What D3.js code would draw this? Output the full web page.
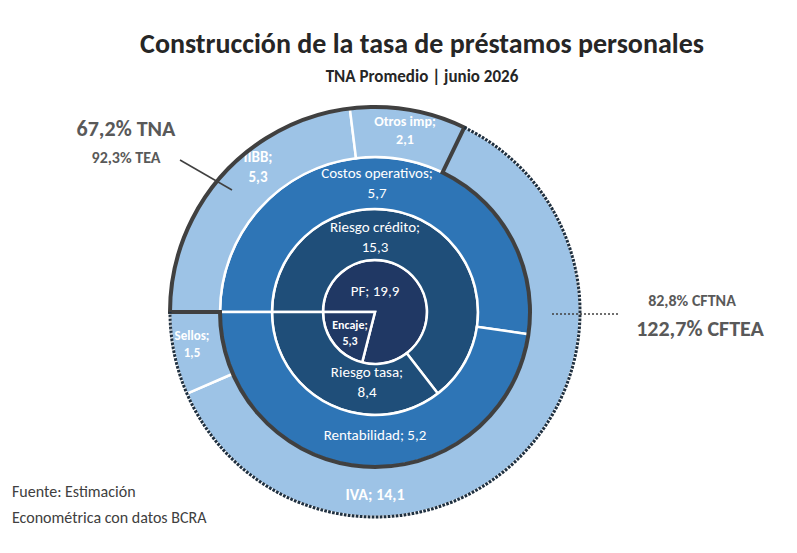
<!DOCTYPE html>
<html><head><meta charset="utf-8">
<script src="https://cdn.jsdelivr.net/npm/d3@7"></script>
<style>body{margin:0;background:#fff}text{font-family:Calibri,Carlito,"Open Sans",sans-serif}</style>
</head><body><svg id="c" width="797" height="553"></svg>
<script>
const ring1 = [{name:"PF", value:19.9},{name:"Encaje", value:5.3}];
const ring2 = [{name:"Riesgo crédito", value:15.3},{name:"Riesgo tasa", value:8.4}];
const ring3 = [{name:"Costos operativos", value:5.7},{name:"Rentabilidad", value:5.2}];
const ring4 = [{name:"IIBB", value:5.3},{name:"Otros imp", value:2.1},{name:"IVA", value:14.1},{name:"Sellos", value:1.5}];
const tnaLabels = ["67,2% TNA","92,3% TEA"];
const cftLabels = ["82,8% CFTNA","122,7% CFTEA"];
const fmt = v => String(v).replace(".", ",");

const svg = d3.select("#c");
const cx = 375, cy = 312;
const g = svg.append("g").attr("transform", `translate(${cx},${cy})`);
const pie = d3.pie().sort(null).value(d=>d.value).startAngle(-Math.PI/2).endAngle(3*Math.PI/2);
const rings = [
 {data:ring1, r0:0, r1:52, color:"#203864", fs:14},
 {data:ring2, r0:52, r1:103, color:"#1f4e79", fs:15},
 {data:ring3, r0:103, r1:155, color:"#2e75b6", fs:15},
 {data:ring4, r0:155, r1:205, color:"#9dc3e6", fs:15}
];
// label offsets relative to center [dx, dy, bold, size, twoLine]
const labelPos = {
 "PF":[0,-16,false,15,false], "Encaje":[-25,17,true,12,true],
 "Riesgo crédito":[0,-80,false,15,true], "Riesgo tasa":[-8,65,false,15,true],
 "Costos operativos":[2,-134,false,15,true], "Rentabilidad":[0,128,false,15,false],
 "IIBB":[-117,-150,true,15,true], "Otros imp":[30,-186,true,14,true],
 "Sellos":[-183,28,true,13,true], "IVA":[0,188,true,16,false]
};
rings.forEach(rg=>{
  const arc = d3.arc().innerRadius(rg.r0).outerRadius(rg.r1);
  g.selectAll(null).data(pie(rg.data)).join("path")
   .attr("d", arc).attr("fill", rg.color).attr("stroke","#fff").attr("stroke-width",2.5);
  rg.data.forEach(d=>{
    const p = labelPos[d.name];
    const t = g.append("text").attr("text-anchor","middle").attr("fill","#fff")
      .attr("font-size",p[3]).attr("font-weight",p[2]?"bold":"normal");
    if(p[4]){
      t.append("tspan").attr("x",p[0]).attr("y",p[1]).text(d.name+";");
      t.append("tspan").attr("x",p[0]).attr("y",p[1]+p[3]*1.3).text(fmt(d.value));
    } else t.attr("x",p[0]).attr("y",p[1]).text(d.name+"; "+fmt(d.value));
  });
});
// outlines
const p4 = pie(ring4);
const aStart = p4[0].startAngle, aMid = p4[1].endAngle, aEnd = p4[3].endAngle;
const pt = (a,r)=>[r*Math.sin(a), -r*Math.cos(a)];
const path = d3.path();
let s = pt(aStart,205); path.moveTo(...s);
path.arc(0,0,205,aStart-Math.PI/2,aMid-Math.PI/2,false);
path.lineTo(...pt(aMid,155));
path.arc(0,0,155,aMid-Math.PI/2,aEnd-Math.PI/2,false);
path.closePath();
g.append("path").attr("d",path.toString()).attr("fill","none").attr("stroke","#404040").attr("stroke-width",4).attr("stroke-linejoin","miter");
g.append("path").attr("d",d3.arc().innerRadius(205).outerRadius(205).startAngle(aMid).endAngle(aEnd)())
 .attr("fill","none").attr("stroke","#1f3040").attr("stroke-width",3).attr("stroke-dasharray","2,2");
// callouts
svg.append("line").attr("x1",180).attr("y1",160).attr("x2",232).attr("y2",190).attr("stroke","#404040").attr("stroke-width",1.5);
svg.append("line").attr("x1",552).attr("y1",314).attr("x2",618).attr("y2",314).attr("stroke","#404040").attr("stroke-width",1.5).attr("stroke-dasharray","2,2");
svg.append("text").attr("x",126).attr("y",136).attr("text-anchor","middle").attr("font-size",22).attr("font-weight","bold").attr("fill","#595959").text(tnaLabels[0]);
svg.append("text").attr("x",126).attr("y",163).attr("text-anchor","middle").attr("font-size",16).attr("font-weight","bold").attr("fill","#595959").text(tnaLabels[1]);
svg.append("text").attr("x",692).attr("y",306).attr("text-anchor","middle").attr("font-size",16).attr("font-weight","bold").attr("fill","#595959").text(cftLabels[0]);
svg.append("text").attr("x",700).attr("y",336).attr("text-anchor","middle").attr("font-size",22).attr("font-weight","bold").attr("fill","#595959").text(cftLabels[1]);
// titles
svg.append("text").attr("x",422).attr("y",53).attr("text-anchor","middle").attr("font-size",28).attr("font-weight","bold").attr("fill","#262626").text("Construcción de la tasa de préstamos personales");
svg.append("text").attr("x",422).attr("y",82).attr("text-anchor","middle").attr("font-size",17).attr("font-weight","bold").attr("fill","#262626").text("TNA Promedio | junio 2026");
svg.append("text").attr("x",12).attr("y",497).attr("font-size",16).attr("fill","#404040").text("Fuente: Estimación");
svg.append("text").attr("x",12).attr("y",523).attr("font-size",16).attr("fill","#404040").text("Econométrica con datos BCRA");
</script></body></html>
